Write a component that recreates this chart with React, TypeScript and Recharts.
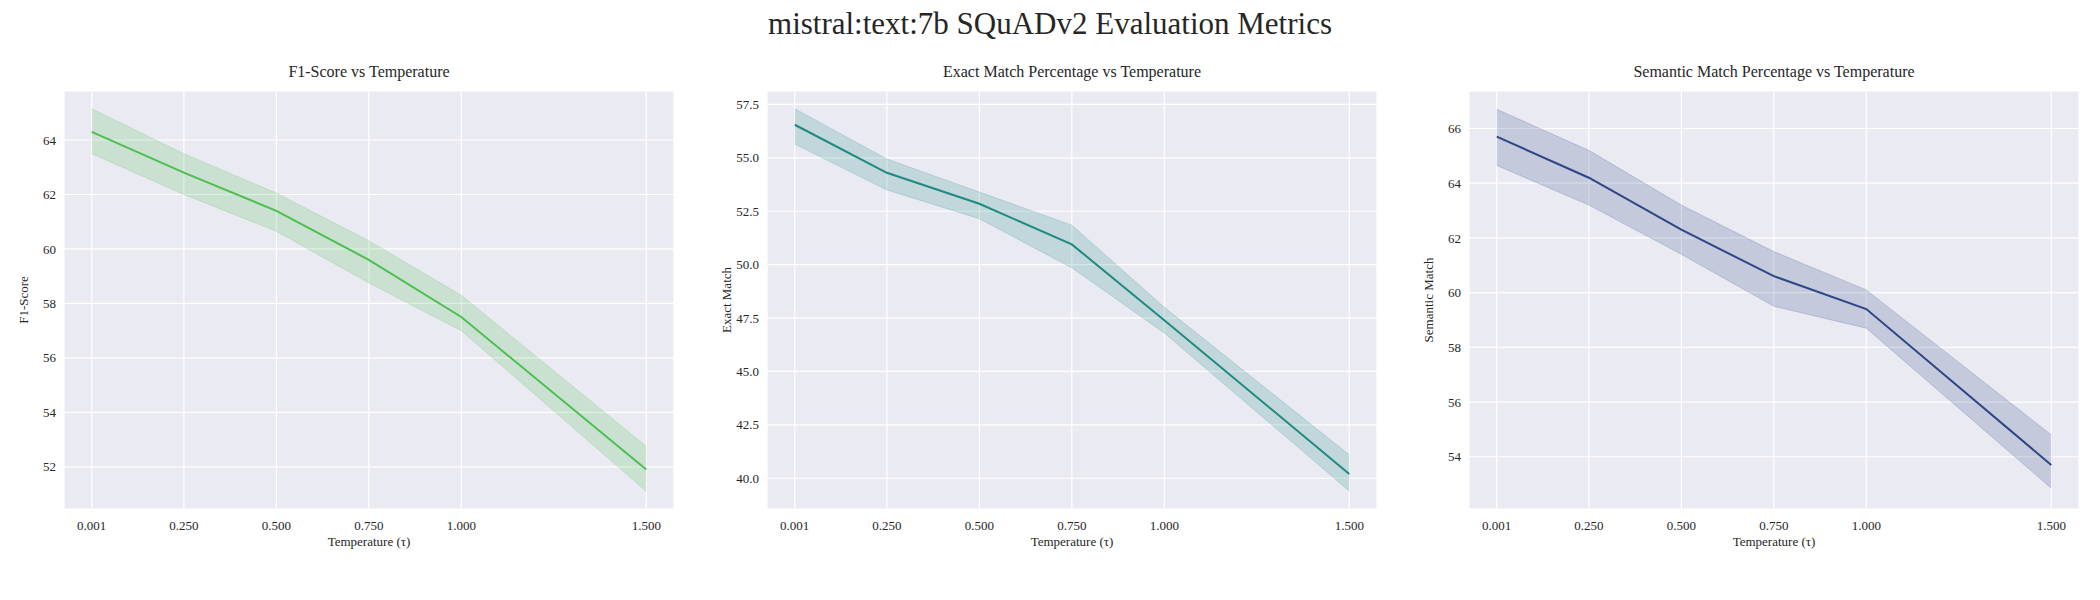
import { Area, CartesianGrid, ComposedChart, Line, XAxis, YAxis } from "recharts";

const temperatures = [0.001, 0.25, 0.5, 0.75, 1.0, 1.5];

const f1Mean = [64.3, 62.8, 61.4, 59.6, 57.5, 51.9];
const f1Low = [63.5, 62.0, 60.65, 58.75, 57.0, 51.1];
const f1High = [65.15, 63.5, 62.05, 60.3, 58.3, 52.75];

const emMean = [56.55, 54.3, 52.85, 50.95, 47.4, 40.2];
const emLow = [55.65, 53.5, 52.15, 49.85, 46.8, 39.4];
const emHigh = [57.3, 54.95, 53.4, 51.85, 48.0, 41.1];

const smMean = [65.7, 64.2, 62.3, 60.6, 59.4, 53.7];
const smLow = [64.65, 63.2, 61.4, 59.5, 58.7, 52.85];
const smHigh = [66.7, 65.2, 63.2, 61.5, 60.1, 54.8];

const f1Ticks = [52, 54, 56, 58, 60, 62, 64];
const emTicks = [40, 42.5, 45, 47.5, 50, 52.5, 55, 57.5];
const smTicks = [54, 56, 58, 60, 62, 64, 66];

const font = "'Liberation Serif', 'DejaVu Serif', serif";

type PanelProps = {
  left: number;
  title: string;
  yLabel: string;
  mean: number[];
  low: number[];
  high: number[];
  ticks: number[];
  domain: [number, number];
  color: string;
  decimals: number;
};

function Panel({ left, title, yLabel, mean, low, high, ticks, domain, color, decimals }: PanelProps) {
  const data = temperatures.map((t, i) => ({ t, mean: mean[i], band: [low[i], high[i]] }));
  return (
    <div style={{ position: "absolute", left, top: 0, width: 700, height: 600 }}>
      <div style={{ position: "absolute", left: 64, width: 610, top: 63, textAlign: "center", fontSize: 16, color: "#262626" }}>
        {title}
      </div>
      <div
        style={{
          position: "absolute",
          left: 24,
          top: 300,
          transform: "translate(-50%, -50%) rotate(-90deg)",
          whiteSpace: "nowrap",
          fontSize: 13,
          color: "#262626",
        }}
      >
        {yLabel}
      </div>
      <div style={{ position: "absolute", left: 64, width: 610, top: 534, textAlign: "center", fontSize: 13, color: "#262626" }}>
        Temperature (τ)
      </div>
      <ComposedChart width={700} height={600} data={data} margin={{ top: 91, left: 24, right: 26, bottom: 61 }}>
        <CartesianGrid fill="#eaeaf2" stroke="#ffffff" strokeWidth={1.2} />
        <XAxis
          dataKey="t"
          type="number"
          domain={[-0.074, 1.575]}
          ticks={temperatures}
          tickFormatter={(v: number) => v.toFixed(3)}
          axisLine={false}
          tickLine={false}
          height={30}
          tick={{ fontSize: 13, fill: "#262626", fontFamily: font }}
          tickMargin={6}
        />
        <YAxis
          type="number"
          domain={domain}
          ticks={ticks}
          tickFormatter={(v: number) => v.toFixed(decimals)}
          axisLine={false}
          tickLine={false}
          width={40}
          tick={{ fontSize: 13, fill: "#262626", fontFamily: font }}
          allowDataOverflow
        />
        <Area dataKey="band" stroke={color} strokeOpacity={0.2} fill={color} fillOpacity={0.2} isAnimationActive={false} />
        <Line dataKey="mean" stroke={color} strokeWidth={2} dot={false} isAnimationActive={false} />
      </ComposedChart>
    </div>
  );
}

export default function App() {
  return (
    <div style={{ position: "absolute", left: 0, top: 0, width: 2100, height: 600, background: "#fff", fontFamily: font, overflow: "hidden" }}>
      <div style={{ position: "absolute", left: 0, width: 2100, top: 6, textAlign: "center", fontSize: 31, color: "#262626" }}>
        mistral:text:7b SQuADv2 Evaluation Metrics
      </div>
      <Panel left={0} title="F1-Score vs Temperature" yLabel="F1-Score" mean={f1Mean} low={f1Low} high={f1High}
        ticks={f1Ticks} domain={[50.45, 65.8]} color="#4cbf50" decimals={0} />
      <Panel left={703} title="Exact Match Percentage vs Temperature" yLabel="Exact Match" mean={emMean} low={emLow} high={emHigh}
        ticks={emTicks} domain={[38.56, 58.13]} color="#1e8a80" decimals={1} />
      <Panel left={1405} title="Semantic Match Percentage vs Temperature" yLabel="Semantic Match" mean={smMean} low={smLow} high={smHigh}
        ticks={smTicks} domain={[52.09, 67.37]} color="#2c4785" decimals={0} />
    </div>
  );
}
